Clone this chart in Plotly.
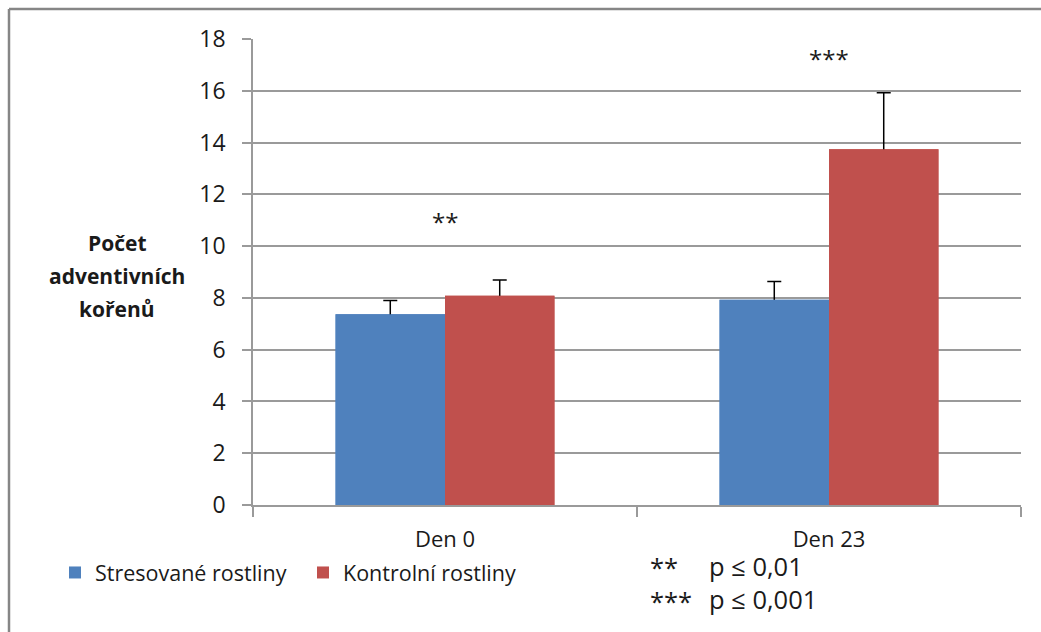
import plotly.graph_objects as go

categories = ["Den 0", "Den 23"]
stressed = [7.37, 7.93]
stressed_err = [0.53, 0.70]
control = [8.08, 13.74]
control_err = [0.61, 2.18]
signif_labels = ["**", "***"]
signif_y = [10.97, 17.25]
y_ticks = [0, 2, 4, 6, 8, 10, 12, 14, 16, 18]

FONT = "Open Sans"
TXT = "#1a1a1a"
GRID = "#9a9a9a"
BLUE = "#4F81BD"
RED = "#C0504D"

W, H = 1041, 632
L, R, T, B = 253, 20, 39, 127
PW, PH = W - L - R, H - T - B

def px(x):
    return (x - L) / PW

def py(y):
    return (H - B - y) / PH

fig = go.Figure()
# error bars first (lower half hidden under the bars drawn afterwards)
for name, vals, errs, col, grp in [("Stresované rostliny", stressed, stressed_err, BLUE, "s"),
                                    ("Kontrolní rostliny", control, control_err, RED, "c")]:
    fig.add_trace(go.Bar(
        name=name, x=categories, y=vals, offsetgroup=grp, showlegend=False, hoverinfo="skip",
        marker=dict(color=col, line=dict(width=0)),
        error_y=dict(type="data", array=errs, arrayminus=[v * 0.5 for v in vals],
                     symmetric=False, color="#000000", thickness=1.5, width=7),
    ))
for name, vals, col, grp in [("Stresované rostliny", stressed, BLUE, "s"),
                              ("Kontrolní rostliny", control, RED, "c")]:
    fig.add_trace(go.Bar(
        name=name, x=categories, y=vals, offsetgroup=grp,
        marker=dict(color=col, line=dict(width=0)),
    ))

annotations = []
for c, lab, yv in zip(categories, signif_labels, signif_y):
    annotations.append(dict(x=c, y=yv, xref="x", yref="y", text=lab, showarrow=False,
                            font=dict(family=FONT, size=24, color=TXT)))

for txt, yc in zip(["Počet", "adventivních", "kořenů"], [243, 276, 309]):
    annotations.append(dict(x=px(117), y=py(yc), xref="paper", yref="paper", text="<b>%s</b>" % txt,
                            showarrow=False, xanchor="center", yanchor="middle",
                            font=dict(family=FONT, size=21, color=TXT)))

for txt, xl, yc in [("**", 648, 567), ("p ≤ 0,01", 707, 566), ("***", 648, 601), ("p ≤ 0,001", 707, 599)]:
    annotations.append(dict(x=px(xl), y=py(yc), xref="paper", yref="paper", text=txt,
                            showarrow=False, xanchor="left", yanchor="middle",
                            font=dict(family=FONT, size=25.5, color=TXT)))

shapes = [
    dict(type="line", xref="paper", yref="paper", x0=px(9), x1=px(1060), y0=py(9), y1=py(9),
         line=dict(color="#868686", width=2.5)),
    dict(type="line", xref="paper", yref="paper", x0=px(9), x1=px(9), y0=py(9), y1=py(650),
         line=dict(color="#868686", width=2.5)),
]

fig.update_layout(
    width=W, height=H,
    margin=dict(l=L, r=R, t=T, b=B, autoexpand=False),
    paper_bgcolor="white", plot_bgcolor="white",
    barmode="group", bargap=0.43, bargroupgap=0,
    font=dict(family=FONT, color=TXT),
    showlegend=True,
    legend=dict(orientation="h", x=px(55), y=py(552), xanchor="left", yanchor="top",
                font=dict(family=FONT, size=21.5, color=TXT), entrywidth=203,
                bgcolor="rgba(0,0,0,0)", itemclick=False, itemdoubleclick=False),
    annotations=annotations,
    shapes=shapes,
    xaxis=dict(showline=True, linecolor=GRID, linewidth=1.5, ticks="outside", tickson="boundaries",
               ticklen=10, tickcolor=GRID, tickwidth=1.5, showgrid=False,
               tickfont=dict(family=FONT, size=22, color=TXT), ticklabelstandoff=14),
    yaxis=dict(range=[0, 18], tickvals=y_ticks, showline=True, linecolor=GRID, linewidth=1.5,
               ticks="outside", ticklen=9, tickcolor=GRID, tickwidth=1.5,
               showgrid=True, gridcolor=GRID, gridwidth=1.5, zeroline=False,
               tickfont=dict(family=FONT, size=23, color=TXT), ticklabelstandoff=12),
)

fig.write_html("out.html")
